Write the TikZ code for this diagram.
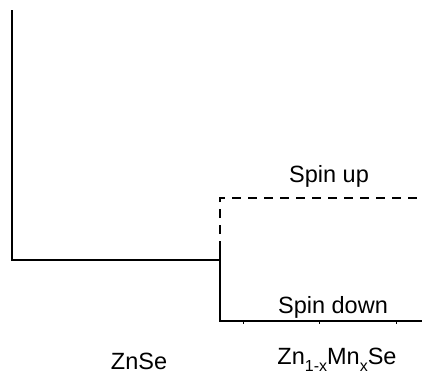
\documentclass[tikz,border=0pt]{standalone}
\usepackage{fontspec}
\setmainfont{Liberation Sans}
\begin{document}
\begin{tikzpicture}[x=1pt,y=-1pt,
  band/.style={line width=1.6pt},
  dband/.style={line width=1.6pt,dash pattern=on 9pt off 7pt},
  lbl/.style={font=\fontsize{23.5}{27}\selectfont,inner sep=0pt,anchor=base}]
\useasboundingbox (0,0) rectangle (422,376);
\coordinate (tl) at (12,10);
\coordinate (bl) at (12,260);
\coordinate (j) at (220,260);
\coordinate (jd) at (220,250);
\coordinate (ut) at (220,198);
\coordinate (ur) at (423,198);
\coordinate (db) at (220,321);
\coordinate (dr) at (423,321);
\draw[band] (tl) -- (bl) -- (j);
\draw[band] (jd) -- (db) -- (dr);
\draw[dband] (jd) -- (ut) -- (ur);
\foreach \t [count=\i] in {243,319,396}
  \coordinate (tk\i) at (\t,321);
\foreach \i in {1,2,3}
  \draw[line width=0.8pt] (tk\i) -- ++(0,3);
\node[lbl] (up) at (329,182) {Spin up};
\node[lbl] (down) at (333,313) {Spin down};
\node[lbl] (znse) at (139,369) {ZnSe};
\node[lbl] (znmnse) at (337,364) {Zn\raisebox{-0.3em}{\fontsize{16}{18}\selectfont 1-x}Mn\raisebox{-0.3em}{\fontsize{16}{18}\selectfont x}Se};
\end{tikzpicture}
\end{document}
